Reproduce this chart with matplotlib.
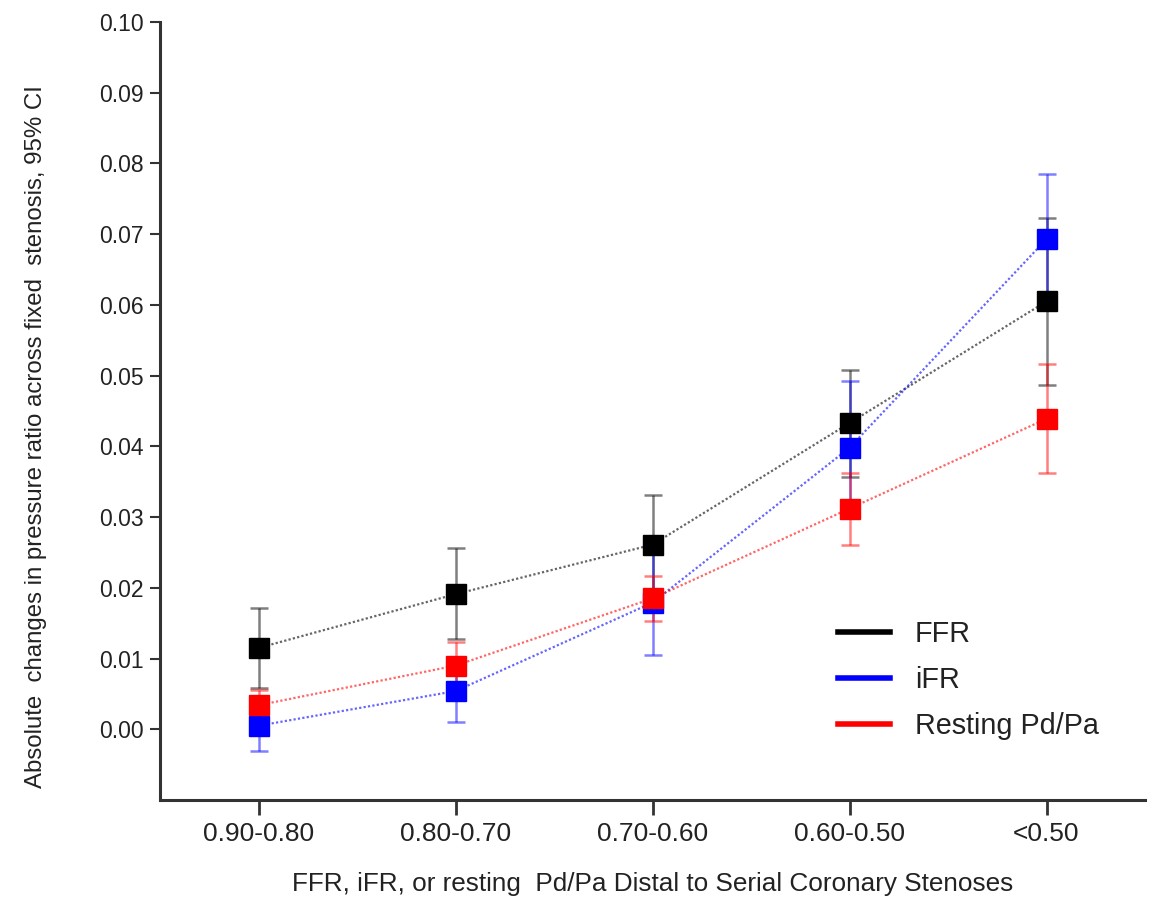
import matplotlib
matplotlib.use("Agg")
import matplotlib.pyplot as plt
import numpy as np

categories = ["0.90-0.80", "0.80-0.70", "0.70-0.60", "0.60-0.50", "<0.50"]

ffr_mean = [0.0115, 0.0191, 0.0261, 0.0433, 0.0605]
ffr_low = [0.0058, 0.0128, 0.0192, 0.0356, 0.0487]
ffr_high = [0.0172, 0.0256, 0.0331, 0.0508, 0.0723]

ifr_mean = [0.0005, 0.0054, 0.0179, 0.0398, 0.0693]
ifr_low = [-0.0031, 0.0010, 0.0105, 0.0302, 0.0602]
ifr_high = [0.0040, 0.0098, 0.0252, 0.0493, 0.0785]

rest_mean = [0.0034, 0.0090, 0.0185, 0.0312, 0.0439]
rest_low = [0.0014, 0.0061, 0.0153, 0.0260, 0.0363]
rest_high = [0.0056, 0.0123, 0.0217, 0.0362, 0.0516]

series = [
    ("FFR", ffr_mean, ffr_low, ffr_high, "#000000"),
    ("iFR", ifr_mean, ifr_low, ifr_high, "#0000ff"),
    ("Resting Pd/Pa", rest_mean, rest_low, rest_high, "#ff0000"),
]

plt.rcParams['font.family'] = ['Liberation Sans', 'DejaVu Sans']

fig = plt.figure(figsize=(11.53, 9.02), dpi=100)
ax = fig.add_axes([160/1153, 102/902, (1145-160)/1153, (800-22)/902])

x = np.arange(len(categories))
for name, m, lo, hi, c in series:
    m = np.array(m); lo = np.array(lo); hi = np.array(hi)
    ax.plot(x, m, linestyle=(0, (1, 1.0)), color=c, alpha=0.6, lw=1.6, zorder=2)
    ax.errorbar(x, m, yerr=[m - lo, hi - m], fmt='none', ecolor=c, alpha=0.5,
                elinewidth=1.8, capsize=6.5, capthick=1.8, zorder=3)
    ax.plot(x, m, linestyle='none', marker='s', markersize=14.5, color=c,
            markeredgecolor=c, zorder=4)
    ax.plot([], [], color=c, lw=4, label=name)

ax.set_xlim(-0.5, 4.5)
ax.set_ylim(-0.01, 0.10)
ax.set_yticks(np.arange(0, 0.1001, 0.01))
ax.set_yticklabels([f"{v:.2f}" for v in np.arange(0, 0.1001, 0.01)])
ax.set_xticks(x)
ax.set_xticklabels(categories)

for s in ["top", "right"]:
    ax.spines[s].set_visible(False)
for s in ["left", "bottom"]:
    ax.spines[s].set_linewidth(2.2)
    ax.spines[s].set_color("#333333")

ax.tick_params(axis='y', direction='out', length=7, width=1.5, color="#333333",
               labelsize=16.5, pad=5, labelcolor="#222222")
ax.tick_params(axis='x', direction='out', length=11, width=2, color="#333333",
               labelsize=19, pad=5, labelcolor="#222222")

ax.set_ylabel("Absolute  changes in pressure ratio across fixed  stenosis, 95% CI",
              fontsize=17.3, color="#222222")
ax.yaxis.set_label_coords(-0.1147, 0.467)
ax.set_xlabel("FFR, iFR, or resting  Pd/Pa Distal to Serial Coronary Stenoses",
              fontsize=18.8, color="#222222")
ax.xaxis.set_label_coords(0.5, -0.0925)

leg = ax.legend(loc='upper left', bbox_to_anchor=(0.662, 0.264), frameon=False,
                fontsize=20.7, handlelength=1.8, handletextpad=0.87, labelspacing=0.62)
for t in leg.get_texts():
    t.set_color("#222222")

fig.savefig("out.png", dpi=100)
